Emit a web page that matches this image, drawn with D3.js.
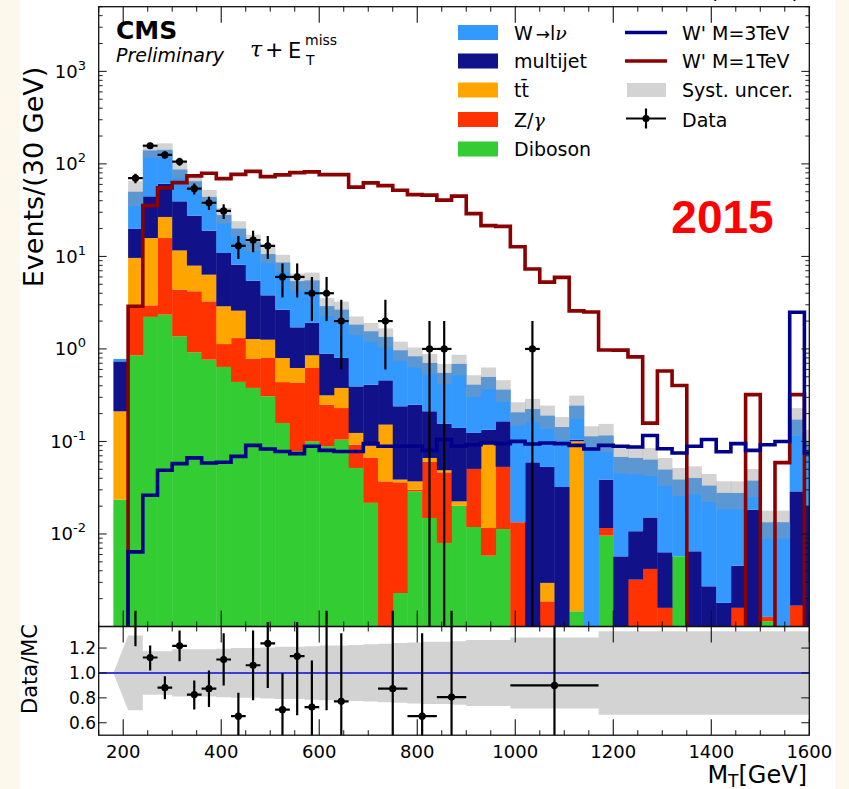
<!DOCTYPE html>
<html>
<head>
<meta charset="utf-8">
<script src="https://cdn.jsdelivr.net/npm/d3@7"></script>
<style>
html, body { margin: 0; padding: 0; background: #fdf8ec; }
svg { display: block; font-family: "DejaVu Sans", sans-serif; }
</style>
</head>
<body>
<svg id="chart" width="849" height="789"></svg>
<script>
// Bin edges in GeV (30 GeV bins; the last bin runs past the axis end)
const binEdges = [180,210,240,270,300,330,360,390,420,450,480,510,540,570,600,630,660,690,720,750,780,810,840,870,900,930,960,990,1020,1050,1080,1110,1140,1170,1200,1230,1260,1290,1320,1350,1380,1410,1440,1470,1500,1530,1560,1590,1620];

// Background expectations per bin (events / 30 GeV)
const diboson = [0.0235,0.853,2.22,2.35,1.37,0.919,0.766,0.639,0.44,0.379,0.308,0.158,0.0785,0.1,0.089,0.1047,0.0517,0.0217,0,0.0023,0.0289,0.0149,0.008,0.0202,0.0119,0.00583,0.0113,0,0,0,0,0.00146,0,0.0096,0,0,0,0,0.00573,0,0,0,0,0,0.00114,0,0,0];
const zgamma = [0,2.04,0.74,13.45,3.01,3.28,2.50,0.49,0.87,0.40,0.49,0.28,0.35,0.523,0.161,0.125,0.0407,0.0446,0.037,0.0339,0.0012,0.0451,0.0384,0,0.0386,0.00577,0.0418,0.0134,0,0.00187,0,0,0,0.002,0,0.00321,0.00419,0.00159,0,0,0,0,0.00159,0,0.00013,0,0.00168,0];
const ttbar = [0.188,6.74,12.84,10.9,7.22,3.75,3.08,1.76,1.28,0.50,0.46,0.36,0.194,0.23,0.065,0.149,0.0312,0.0237,0.115,0.0025,0.0069,0.0063,0.0024,0.0023,0,0.0862,0,0,0,0.00109,0,0.0988,0,0,0,0,0,0,0,0,0,0,0,0,0,0,0,0];
const multijet = [0.522,10.2,28.8,34.3,27.8,19.65,12.65,8.0,5.56,4.19,2.54,1.86,1.09,1.06,0.575,0.421,0.270,0.321,0.306,0.2013,0.213,0.1457,0.1072,0.1175,0.0731,0.0362,0.112,0,0.0595,0.0501,0.0322,0.0044,0,0.0271,0.00573,0.0075,0.0109,0.00475,0,0.0065,0.00272,0.0018,0.00296,0.0183,0,0,0.0272,0.02];
const wlnu = [0.046,30.2,95.4,81,47.6,37.4,25,17.1,11.85,8.83,6.8,5.94,3.69,3.59,2.01,1.86,1.436,1.139,0.892,0.726,0.582,0.494,0.395,0.549,0.287,0.364,0.198,0.193,0.165,0.137,0.111,0.139,0.1136,0.0773,0.0623,0.0556,0.0485,0.0433,0.033,0.0338,0.0306,0.026,0.0232,0.0194,0.0121,0.0134,0.143,0.08];

// Relative systematic uncertainty on the total background
const systRel = [0,0.30,0.175,0.175,0.19,0.19,0.19,0.195,0.20,0.20,0.205,0.21,0.21,0.215,0.22,0.22,0.225,0.23,0.235,0.24,0.245,0.25,0.25,0.255,0.265,0.265,0.265,0.285,0.285,0.285,0.285,0.285,0.285,0.335,0.335,0.335,0.335,0.335,0.335,0.335,0.335,0.335,0.335,0.335,0.335,0.335,0.335,0.335];

// Signal hypotheses
const wprime1 = [0,2.89,35.4,55.0,62.7,74.3,79.1,69.3,77.1,83.1,72.8,76.0,80.5,81.9,76.5,76.5,56.1,62.3,58.2,51.8,46.5,46.0,40.6,44.8,29.0,21.5,21.1,12.7,7.32,5.27,5.94,2.58,2.51,0.975,0.97,0.82,0.158,0.578,0.403,0,0,0,0,0.321,0,0.059,0.321,0];
const wprime3 = [0,0.0064,0.0262,0.0488,0.0576,0.0664,0.0586,0.0595,0.069,0.0908,0.083,0.078,0.0738,0.0886,0.080,0.078,0.078,0.0947,0.0886,0.0886,0.0886,0.080,0.105,0.0886,0.092,0.0964,0.0947,0.1003,0.094,0.0964,0.0947,0.0908,0.083,0.0908,0.0886,0.0872,0.116,0.0835,0.0751,0.0886,0.105,0.0774,0.0947,0.080,0.092,0.100,2.49,0.0751];

// Observed events
const dataX = [225,255,285,315,345,375,405,435,465,495,525,555,585,615,645,735,825,855,1035];
const dataN = [70,157,125,106,54,38,31,13,15,13,6,6,4,4,2,2,1,1,1];
const dataErr = [8.4,12.5,11.2,10.3,7.3,6.2,5.6,3.6,3.9,3.6,2.4,2.4,2.0,2.0,1.4,1.4,1.0,1.0,1.0];

// Data / MC ratio (wider bins at high mass)
const ratioX = [225,255,285,315,345,375,405,435,465,495,525,555,585,615,645,750,810,870,1080];
const ratioHalf = [15,15,15,15,15,15,15,15,15,15,15,15,15,15,15,30,30,30,90];
const ratioVal = [1.55,1.124,0.882,1.218,0.826,0.874,1.108,0.653,1.062,1.237,0.705,1.135,0.726,1.6,0.772,0.874,0.653,0.806,0.90];
const ratioLo = [1.215,1.02,0.788,1.094,0.707,0.726,0.90,0.30,0.78,0.88,0.30,0.66,0.30,0.70,0.30,0.0,0.0,0.0,0.0];
const ratioHi = [1.9,1.22,0.974,1.34,0.94,1.02,1.318,0.84,1.34,1.41,1.0,1.41,1.10,2.5,1.318,1.8,1.318,1.8,1.38];

// Axis ticks
const xMajor = [200,400,600,800,1000,1200,1400,1600];
const yDecades = [-3,-2,-1,0,1,2,3];
const yLabelDecades = [-2,-1,0,1,2,3];
const ratioTicks = [0.6,0.8,1.0,1.2];

// Legend entries
const bkgLegend = [
  {key: "wlnu", color: "#3399ff"},
  {key: "multijet", color: "#11118a"},
  {key: "ttbar", color: "#ffa500"},
  {key: "zgamma", color: "#ff3300"},
  {key: "diboson", color: "#33cc33"}
];

const svg = d3.select("#chart");
const W = 849, H = 789;
const L = 98.7, R = 809.3, T = 6.7, MB = 626.5, RT = 610.7, RB = 735.2;

const x = d3.scaleLinear().domain([150, 1600]).range([L, R]);
const y = d3.scaleLog().domain([1e-3, 5e3]).range([MB, T]);
const yr = d3.scaleLinear().domain([0.5, 1.5]).range([RB, RT]);
const yv = v => v > 0 ? y(v) : MB + 60;

const colorOf = {};
bkgLegend.forEach(d => colorOf[d.key] = d.color);

// page background
svg.append("rect").attr("width", W).attr("height", H).attr("fill", "#fdf8ec");
svg.append("rect").attr("x", 20).attr("width", 815).attr("height", H).attr("fill", "#ffffff");

const defs = svg.append("defs");
defs.append("clipPath").attr("id", "clipMain").append("rect")
  .attr("x", L).attr("y", T).attr("width", R - L).attr("height", MB - T);
defs.append("clipPath").attr("id", "clipRatio").append("rect")
  .attr("x", L).attr("y", RT).attr("width", R - L).attr("height", RB - RT);

// ---------- main panel ----------
const gMain = svg.append("g").attr("clip-path", "url(#clipMain)");

const table = diboson.map((_, i) => ({
  lo: binEdges[i], hi: binEdges[i + 1],
  diboson: diboson[i], zgamma: zgamma[i], ttbar: ttbar[i],
  multijet: multijet[i], wlnu: wlnu[i]
}));
const keys = ["diboson", "zgamma", "ttbar", "multijet", "wlnu"];
const layers = d3.stack().keys(keys)(table);

layers.forEach(layer => {
  gMain.append("g").selectAll("rect")
    .data(layer.filter(d => d[1] - d[0] > 0))
    .join("rect")
    .attr("x", d => x(d.data.lo))
    .attr("width", d => x(d.data.hi) - x(d.data.lo) + 0.4)
    .attr("y", d => yv(d[1]))
    .attr("height", d => Math.max(0, yv(d[0]) - yv(d[1])))
    .attr("fill", colorOf[layer.key]);
});

// systematic band around the total
const totals = table.map(d => ({lo: d.lo, hi: d.hi, tot: keys.reduce((s, k) => s + d[k], 0)}));
gMain.append("g").selectAll("rect")
  .data(totals.map((d, i) => ({...d, e: systRel[i]})).filter(d => d.e > 0))
  .join("rect")
  .attr("x", d => x(d.lo))
  .attr("width", d => x(d.hi) - x(d.lo) + 0.4)
  .attr("y", d => yv(d.tot * (1 + d.e)))
  .attr("height", d => yv(d.tot * (1 - d.e)) - yv(d.tot * (1 + d.e)))
  .attr("fill", "rgb(147,147,147)")
  .attr("fill-opacity", 0.41);

// signal step lines
function stepPoints(vals) {
  const pts = vals.map((v, i) => [binEdges[i], v]);
  pts.push([binEdges[vals.length], vals[vals.length - 1]]);
  return pts;
}
const stepLine = d3.line().x(d => x(d[0])).y(d => yv(d[1])).curve(d3.curveStepAfter);
gMain.append("path").attr("d", stepLine(stepPoints(wprime1)))
  .attr("fill", "none").attr("stroke", "#8b0000").attr("stroke-width", 3.6);
gMain.append("path").attr("d", stepLine(stepPoints(wprime3)))
  .attr("fill", "none").attr("stroke", "#00008b").attr("stroke-width", 3.6);

// data points
const gData = gMain.append("g").attr("stroke", "#000").attr("stroke-width", 2.2);
dataX.forEach((cx, i) => {
  const n = dataN[i], e = dataErr[i];
  gData.append("line").attr("x1", x(cx - 15)).attr("x2", x(cx + 15))
    .attr("y1", y(n)).attr("y2", y(n));
  gData.append("line").attr("x1", x(cx)).attr("x2", x(cx))
    .attr("y1", yv(n + e)).attr("y2", yv(n - e));
  gData.append("circle").attr("cx", x(cx)).attr("cy", y(n)).attr("r", 3.6)
    .attr("fill", "#000").attr("stroke", "none");
});

// ---------- ratio panel ----------
const gRatio = svg.append("g").attr("clip-path", "url(#clipRatio)");
const bandPts = [{x: binEdges[0], e: 0}];
for (let i = 1; i < systRel.length; i++) {
  bandPts.push({x: binEdges[i], e: systRel[i]});
  bandPts.push({x: binEdges[i + 1], e: systRel[i]});
}
gRatio.append("path")
  .attr("d", d3.area().x(d => x(d.x)).y0(d => yr(1 - d.e)).y1(d => yr(1 + d.e))(bandPts))
  .attr("fill", "#d3d3d3");
gRatio.append("line").attr("x1", L).attr("x2", R).attr("y1", yr(1)).attr("y2", yr(1))
  .attr("stroke", "#3c3cd8").attr("stroke-width", 2);

const gRp = gRatio.append("g").attr("stroke", "#000").attr("stroke-width", 2.2);
ratioX.forEach((cx, i) => {
  const v = ratioVal[i], hw = ratioHalf[i];
  gRp.append("line").attr("x1", x(cx - hw)).attr("x2", x(cx + hw))
    .attr("y1", yr(v)).attr("y2", yr(v));
  gRp.append("line").attr("x1", x(cx)).attr("x2", x(cx))
    .attr("y1", yr(ratioHi[i])).attr("y2", yr(ratioLo[i]));
  gRp.append("circle").attr("cx", x(cx)).attr("cy", yr(v)).attr("r", 3.6)
    .attr("fill", "#000").attr("stroke", "none");
});

// ---------- frames and ticks ----------
const gAx = svg.append("g").attr("stroke", "#111").attr("fill", "none");
gAx.append("rect").attr("x", L).attr("y", T).attr("width", R - L).attr("height", MB - T).attr("stroke-width", 1.3);
gAx.append("rect").attr("x", L).attr("y", MB).attr("width", R - L).attr("height", RB - MB).attr("stroke-width", 1.3);

const xMinor = d3.range(150, 1601, 50).filter(v => !xMajor.includes(v));
function xTicks(y0, dir) {
  xMajor.forEach(v => gAx.append("line").attr("x1", x(v)).attr("x2", x(v))
    .attr("y1", y0).attr("y2", y0 + dir * 16).attr("stroke-width", 1.1));
  xMinor.forEach(v => gAx.append("line").attr("x1", x(v)).attr("x2", x(v))
    .attr("y1", y0).attr("y2", y0 + dir * 5).attr("stroke-width", 1));
}
xTicks(T, 1); xTicks(MB, -1); xTicks(MB, 1); xTicks(RB, -1);

yDecades.forEach(d => {
  const v = Math.pow(10, d);
  [[L, 1], [R, -1]].forEach(([x0, dir]) => {
    gAx.append("line").attr("x1", x0).attr("x2", x0 + dir * 8).attr("y1", y(v)).attr("y2", y(v)).attr("stroke-width", 1);
    for (let k = 2; k <= 9; k++) {
      const m = k * v;
      if (m >= 1e-3 && m <= 5e3) {
        gAx.append("line").attr("x1", x0).attr("x2", x0 + dir * 4).attr("y1", y(m)).attr("y2", y(m)).attr("stroke-width", 0.9);
      }
    }
  });
});
ratioTicks.forEach(v => {
  [[L, 1], [R, -1]].forEach(([x0, dir]) => {
    gAx.append("line").attr("x1", x0).attr("x2", x0 + dir * 8).attr("y1", yr(v)).attr("y2", yr(v)).attr("stroke-width", 1);
  });
});

// ---------- tick labels ----------
const gTxt = svg.append("g").attr("fill", "#000");
yLabelDecades.forEach(d => {
  const t = gTxt.append("text").attr("x", 86).attr("y", y(Math.pow(10, d)) + 6.5)
    .attr("text-anchor", "end").attr("font-size", 18);
  t.append("tspan").text("10");
  t.append("tspan").attr("dy", -8).attr("font-size", 13).text(d < 0 ? "-" + Math.abs(d) : String(d));
});
ratioTicks.forEach(v => {
  gTxt.append("text").attr("x", 96).attr("y", yr(v) + 6).attr("text-anchor", "end")
    .attr("font-size", 17).text(v.toFixed(1));
});
xMajor.forEach(v => {
  gTxt.append("text").attr("x", x(v)).attr("y", 758).attr("text-anchor", "middle")
    .attr("font-size", 18).text(v);
});

// axis titles
gTxt.append("text").attr("transform", "translate(43,177) rotate(-90)")
  .attr("text-anchor", "middle").attr("font-size", 27).text("Events/(30 GeV)");
gTxt.append("text").attr("transform", "translate(37,669) rotate(-90)")
  .attr("text-anchor", "middle").attr("font-size", 21).text("Data/MC");
const xt = gTxt.append("text").attr("x", 807).attr("y", 783).attr("text-anchor", "end").attr("font-size", 24);
xt.append("tspan").text("M");
xt.append("tspan").attr("font-size", 17).attr("dy", 4).text("T");
xt.append("tspan").attr("dy", -4).text("[GeV]");

// luminosity line at the very top (mostly outside the page)
gTxt.append("text").attr("x", 800).attr("y", -2).attr("text-anchor", "end")
  .attr("font-size", 22).text("2.2 fb\u207B\u00B9 (13 TeV)");

// CMS labels
gTxt.append("text").attr("x", 116).attr("y", 39).attr("font-size", 25)
  .attr("font-weight", "bold").text("CMS");
gTxt.append("text").attr("x", 116).attr("y", 62).attr("font-size", 19)
  .attr("font-style", "italic").text("Preliminary");
gTxt.append("text").attr("x", 250).attr("y", 57).attr("font-size", 22)
  .attr("font-family", "DejaVu Serif").attr("font-style", "italic").text("\u03C4");
gTxt.append("text").attr("x", 265).attr("y", 57).attr("font-size", 22).text("+");
gTxt.append("text").attr("x", 288).attr("y", 58).attr("font-size", 21).text("E");
gTxt.append("text").attr("x", 305).attr("y", 45).attr("font-size", 14).text("miss");
gTxt.append("text").attr("x", 306).attr("y", 65).attr("font-size", 14).text("T");

gTxt.append("text").attr("x", 722.5).attr("y", 233).attr("text-anchor", "middle")
  .attr("font-family", "Liberation Sans, Arial, sans-serif").attr("font-weight", "bold")
  .attr("font-size", 46).attr("fill", "#ff0000").text("2015");

// ---------- legend ----------
const legY = [32.5, 61, 90, 119.5, 149];
const gLeg = svg.append("g");
bkgLegend.forEach((d, i) => {
  gLeg.append("rect").attr("x", 458).attr("y", legY[i] - 7.5).attr("width", 40).attr("height", 15)
    .attr("fill", d.color);
});
const lt = (i) => gLeg.append("text").attr("x", 514).attr("y", legY[i] + 7).attr("font-size", 19);
let t0 = lt(0);
t0.append("tspan").text("W");
t0.append("tspan").attr("dx", 3).attr("font-size", 17).text("\u2192");
t0.append("tspan").text("l");
t0.append("tspan").attr("font-family", "DejaVu Serif").attr("font-style", "italic").text("\u03BD");
lt(1).text("multijet");
lt(2).text("t\u0074\u0304");
let t3 = lt(3);
t3.append("tspan").text("Z/");
t3.append("tspan").attr("font-family", "DejaVu Serif").attr("font-style", "italic").text("\u03B3");
lt(4).text("Diboson");

gLeg.append("line").attr("x1", 625).attr("x2", 667).attr("y1", legY[0]).attr("y2", legY[0])
  .attr("stroke", "#00008b").attr("stroke-width", 3.6);
gLeg.append("line").attr("x1", 625).attr("x2", 667).attr("y1", legY[1]).attr("y2", legY[1])
  .attr("stroke", "#8b0000").attr("stroke-width", 3.6);
gLeg.append("rect").attr("x", 627).attr("y", legY[2] - 7).attr("width", 39).attr("height", 14)
  .attr("fill", "#d3d3d3");
gLeg.append("line").attr("x1", 626).attr("x2", 666).attr("y1", legY[3] - 1).attr("y2", legY[3] - 1)
  .attr("stroke", "#000").attr("stroke-width", 2.2);
gLeg.append("line").attr("x1", 646).attr("x2", 646).attr("y1", legY[3] - 11).attr("y2", legY[3] + 9)
  .attr("stroke", "#000").attr("stroke-width", 2.2);
gLeg.append("circle").attr("cx", 646).attr("cy", legY[3] - 1).attr("r", 3.6).attr("fill", "#000");
const rt = (i) => gLeg.append("text").attr("x", 682).attr("y", legY[i] + 7).attr("font-size", 19);
rt(0).text("W' M=3TeV");
rt(1).text("W' M=1TeV");
rt(2).text("Syst. uncer.");
rt(3).text("Data");
</script>
</body>
</html>
